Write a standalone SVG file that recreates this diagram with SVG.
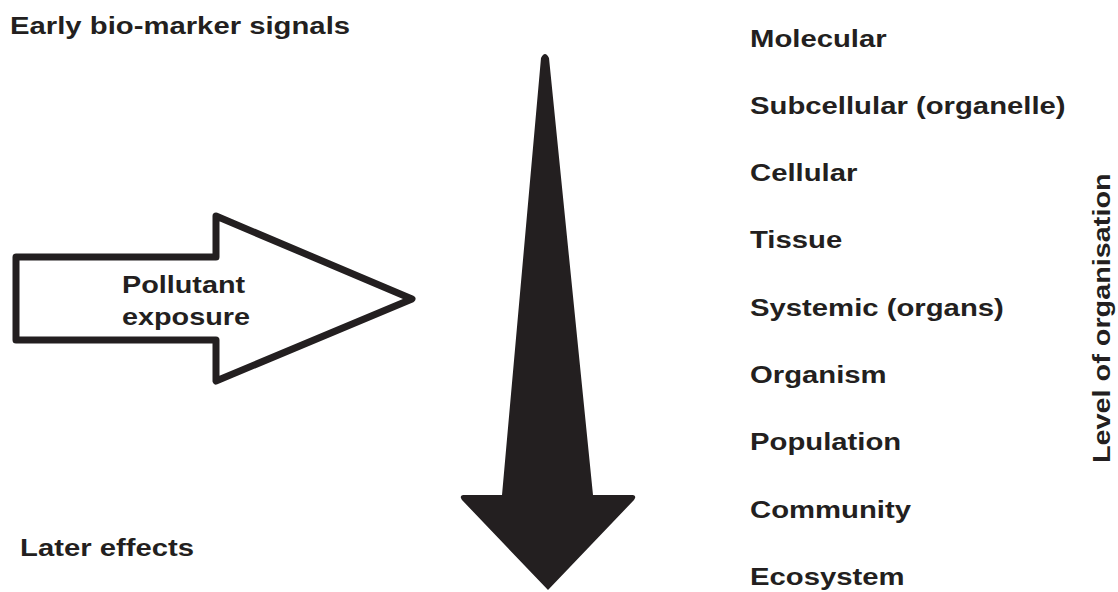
<svg xmlns="http://www.w3.org/2000/svg" width="1118" height="592" viewBox="0 0 1118 592">
<style>
.t{font-family:"Liberation Sans",Arial,sans-serif;font-weight:bold;font-size:24px;fill:#231f20}
</style>
<rect width="1118" height="592" fill="#fff"/>
<g id="header-early"><text class="t" transform="translate(10,34) scale(1.22,1)">Early bio-marker signals</text></g>
<g id="header-later"><text class="t" transform="translate(20,556) scale(1.22,1)">Later effects</text></g>
<g id="pollutant-arrow">
<path d="M16,257 L216,257 L216,216 L412,299 L216,381 L216,340 L16,340 Z" fill="#fff" stroke="#231f20" stroke-width="7" stroke-linejoin="round"/>
<text class="t" transform="translate(122,293) scale(1.2,1)">Pollutant</text>
<text class="t" transform="translate(122,325) scale(1.2,1)">exposure</text>
</g>
<g id="level-arrow">
<path d="M541,58 Q545,50 549,58 L593,495 L633,495 Q637,496 634,500 L548,590 L462,500 Q459,496 463,495 L502,495 Z" fill="#231f20"/>
</g>
<g id="levels">
<text class="t" transform="translate(750,47) scale(1.22,1)">Molecular</text>
<text class="t" transform="translate(750,114) scale(1.22,1)">Subcellular (organelle)</text>
<text class="t" transform="translate(750,181) scale(1.22,1)">Cellular</text>
<text class="t" transform="translate(750,248) scale(1.22,1)">Tissue</text>
<text class="t" transform="translate(750,316) scale(1.22,1)">Systemic (organs)</text>
<text class="t" transform="translate(750,383) scale(1.22,1)">Organism</text>
<text class="t" transform="translate(750,450) scale(1.22,1)">Population</text>
<text class="t" transform="translate(750,518) scale(1.22,1)">Community</text>
<text class="t" transform="translate(750,585) scale(1.22,1)">Ecosystem</text>
</g>
<g id="axis-label"><text class="t" transform="translate(1110,463) rotate(-90) scale(1.2,1)">Level of organisation</text></g>
</svg>
